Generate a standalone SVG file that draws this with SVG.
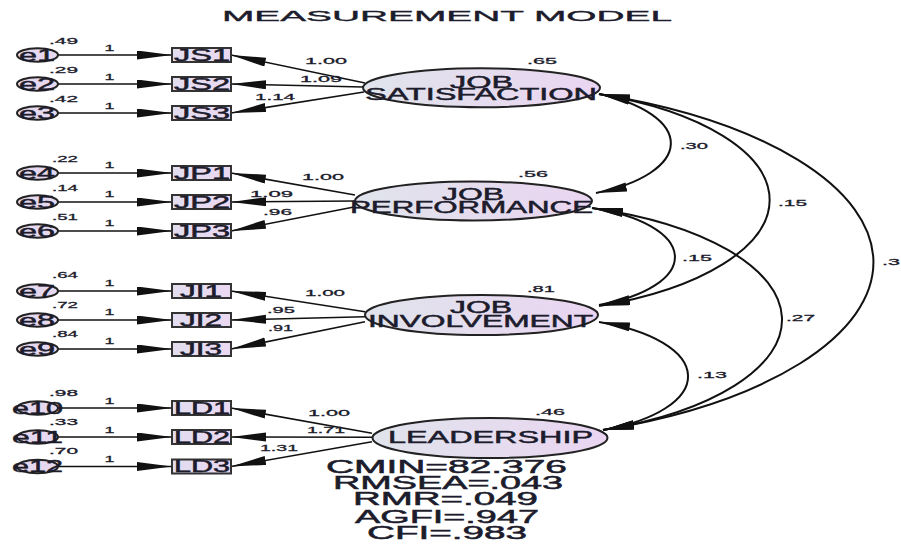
<svg xmlns="http://www.w3.org/2000/svg" width="901" height="545" viewBox="0 0 901 545">
  <style>
    text { font-family: "Liberation Sans", Arial, sans-serif; fill: #1c1c2c; stroke: #1c1c2c; stroke-width: 0.45; }
    .title { font-size: 15px; stroke-width: 0.35; }
    .lat { font-size: 16px; }
    .obs { font-size: 16px; }
    .err { font-size: 16px; }
    .num { font-size: 9.5px; stroke-width: 0.3; }
    .fit { font-size: 18px; stroke-width: 0.5; }
    .latent { fill: url(#latFill); stroke: #222; stroke-width: 2; }
    .box { fill: url(#boxFill); stroke: #333; stroke-width: 2; }
    .eps { fill: #e6d9ef; stroke: #222; stroke-width: 2; }
    .path { fill: none; stroke: #111; stroke-width: 1.6; marker-end: url(#head); }
    .cov { fill: none; stroke: #111; stroke-width: 2; marker-start: url(#headC); marker-end: url(#headC); }
  </style>
  <defs>
    <linearGradient id="latFill" x1="0" y1="0" x2="1" y2="0">
      <stop offset="0" stop-color="#e0e4ec"/>
      <stop offset="1" stop-color="#ead5f1"/>
    </linearGradient>
    <linearGradient id="boxFill" x1="0" y1="0" x2="1" y2="0">
      <stop offset="0" stop-color="#e2ddef"/>
      <stop offset="1" stop-color="#ead8f1"/>
    </linearGradient>
    <marker id="head" viewBox="0 0 36 10" markerUnits="userSpaceOnUse" markerWidth="36" markerHeight="10" refX="35" refY="4.5" orient="auto-start-reverse">
      <path d="M0,0 L35,4.5 L0,9 z" fill="#111"/>
    </marker>
    <marker id="headC" viewBox="0 0 32 10" markerUnits="userSpaceOnUse" markerWidth="32" markerHeight="10" refX="31" refY="4.5" orient="auto-start-reverse">
      <path d="M0,0 L31,4.5 L0,9 z" fill="#111"/>
    </marker>
  </defs>

  <text class="title" x="447" y="20.7" text-anchor="middle" textLength="450" lengthAdjust="spacingAndGlyphs">MEASUREMENT MODEL</text>

  <!-- connectors: error paths, factor loadings, covariances -->
  <g id="connectors">
    <path class="path" d="M58,55 H172"/>
    <path class="path" d="M58,84 H172"/>
    <path class="path" d="M58,113 H172"/>
    <path class="path" d="M58,173 H172"/>
    <path class="path" d="M58,202 H172"/>
    <path class="path" d="M58,231 H172"/>
    <path class="path" d="M58,291 H172"/>
    <path class="path" d="M58,320 H172"/>
    <path class="path" d="M58,349 H172"/>
    <path class="path" d="M58,408 H172"/>
    <path class="path" d="M58,437 H172"/>
    <path class="path" d="M58,466.5 H172"/>

    <path class="path" d="M365,83 L231,55"/>
    <path class="path" d="M363,87 L231,84"/>
    <path class="path" d="M364,92 L231,113"/>
    <path class="path" d="M355,195 L231,173"/>
    <path class="path" d="M355,201 L231,202"/>
    <path class="path" d="M354,207 L231,231"/>
    <path class="path" d="M365,311.7 L231,291"/>
    <path class="path" d="M365,316.7 L231,320"/>
    <path class="path" d="M365,321.7 L231,349"/>
    <path class="path" d="M372,433.3 L231,408"/>
    <path class="path" d="M372,437.3 L231,437"/>
    <path class="path" d="M372,441.7 L231,466.5"/>

    <path class="cov" d="M599,94 A130,55 0 0 1 596,193"/>
    <path class="cov" d="M599,94 A270,114 0 0 1 599,306"/>
    <path class="cov" d="M599,94 A425,180 0 0 1 603,430"/>
    <path class="cov" d="M592,208 A124,52 0 0 1 599,305"/>
    <path class="cov" d="M592,208 A279,118 0 0 1 603,430"/>
    <path class="cov" d="M599,322 A137,58 0 0 1 603,430"/>

    <text class="num" x="305" y="64" textLength="42" lengthAdjust="spacingAndGlyphs">1.00</text>
    <text class="num" x="300" y="82" textLength="42" lengthAdjust="spacingAndGlyphs">1.09</text>
    <text class="num" x="255" y="100" textLength="40" lengthAdjust="spacingAndGlyphs">1.14</text>
    <text class="num" x="302" y="180" textLength="42" lengthAdjust="spacingAndGlyphs">1.00</text>
    <text class="num" x="250" y="196.7" textLength="43" lengthAdjust="spacingAndGlyphs">1.09</text>
    <text class="num" x="263" y="215" textLength="29" lengthAdjust="spacingAndGlyphs">.96</text>
    <text class="num" x="305" y="296" textLength="40" lengthAdjust="spacingAndGlyphs">1.00</text>
    <text class="num" x="267" y="313.3" textLength="28" lengthAdjust="spacingAndGlyphs">.95</text>
    <text class="num" x="268" y="330.7" textLength="25" lengthAdjust="spacingAndGlyphs">.91</text>
    <text class="num" x="308" y="416" textLength="42" lengthAdjust="spacingAndGlyphs">1.00</text>
    <text class="num" x="307" y="432.7" textLength="38" lengthAdjust="spacingAndGlyphs">1.71</text>
    <text class="num" x="260" y="450.7" textLength="38" lengthAdjust="spacingAndGlyphs">1.31</text>

    <text class="num" x="109.5" y="50.7" text-anchor="middle" textLength="10" lengthAdjust="spacingAndGlyphs">1</text>
    <text class="num" x="109.5" y="80" text-anchor="middle" textLength="10" lengthAdjust="spacingAndGlyphs">1</text>
    <text class="num" x="109.5" y="109" text-anchor="middle" textLength="10" lengthAdjust="spacingAndGlyphs">1</text>
    <text class="num" x="109.5" y="168.3" text-anchor="middle" textLength="10" lengthAdjust="spacingAndGlyphs">1</text>
    <text class="num" x="109.5" y="197" text-anchor="middle" textLength="10" lengthAdjust="spacingAndGlyphs">1</text>
    <text class="num" x="109.5" y="226" text-anchor="middle" textLength="10" lengthAdjust="spacingAndGlyphs">1</text>
    <text class="num" x="109.5" y="285.7" text-anchor="middle" textLength="10" lengthAdjust="spacingAndGlyphs">1</text>
    <text class="num" x="109.5" y="315" text-anchor="middle" textLength="10" lengthAdjust="spacingAndGlyphs">1</text>
    <text class="num" x="109.5" y="344" text-anchor="middle" textLength="10" lengthAdjust="spacingAndGlyphs">1</text>
    <text class="num" x="109.5" y="404" text-anchor="middle" textLength="10" lengthAdjust="spacingAndGlyphs">1</text>
    <text class="num" x="109.5" y="433.3" text-anchor="middle" textLength="10" lengthAdjust="spacingAndGlyphs">1</text>
    <text class="num" x="109.5" y="462.3" text-anchor="middle" textLength="10" lengthAdjust="spacingAndGlyphs">1</text>

    <text class="num" x="680" y="149.3" textLength="28" lengthAdjust="spacingAndGlyphs">.30</text>
    <text class="num" x="778" y="205.7" textLength="29" lengthAdjust="spacingAndGlyphs">.15</text>
    <text class="num" x="882" y="265" textLength="18" lengthAdjust="spacingAndGlyphs">.3</text>
    <text class="num" x="682" y="261" textLength="30" lengthAdjust="spacingAndGlyphs">.15</text>
    <text class="num" x="786" y="321" textLength="29" lengthAdjust="spacingAndGlyphs">.27</text>
    <text class="num" x="697" y="378" textLength="30" lengthAdjust="spacingAndGlyphs">.13</text>
  </g>

  <!-- error terms -->
  <g id="e1"><ellipse class="eps" cx="37.5" cy="55" rx="20.5" ry="6.7"/><text class="err" x="19" y="60.7" textLength="36" lengthAdjust="spacingAndGlyphs">e1</text><text class="num" x="49" y="43.5" textLength="29" lengthAdjust="spacingAndGlyphs">.49</text></g>
  <g id="e2"><ellipse class="eps" cx="37.5" cy="84" rx="20.5" ry="6.7"/><text class="err" x="19" y="89.7" textLength="36" lengthAdjust="spacingAndGlyphs">e2</text><text class="num" x="49" y="73" textLength="29" lengthAdjust="spacingAndGlyphs">.29</text></g>
  <g id="e3"><ellipse class="eps" cx="37.5" cy="113" rx="20.5" ry="6.7"/><text class="err" x="19" y="118.7" textLength="36" lengthAdjust="spacingAndGlyphs">e3</text><text class="num" x="49" y="102" textLength="29" lengthAdjust="spacingAndGlyphs">.42</text></g>
  <g id="e4"><ellipse class="eps" cx="37.5" cy="173" rx="20.5" ry="6.7"/><text class="err" x="19" y="178.7" textLength="36" lengthAdjust="spacingAndGlyphs">e4</text><text class="num" x="52" y="161.5" textLength="26" lengthAdjust="spacingAndGlyphs">.22</text></g>
  <g id="e5"><ellipse class="eps" cx="37.5" cy="202" rx="20.5" ry="6.7"/><text class="err" x="19" y="207.7" textLength="36" lengthAdjust="spacingAndGlyphs">e5</text><text class="num" x="52" y="190.7" textLength="26" lengthAdjust="spacingAndGlyphs">.14</text></g>
  <g id="e6"><ellipse class="eps" cx="37.5" cy="231" rx="20.5" ry="6.7"/><text class="err" x="19" y="236.7" textLength="36" lengthAdjust="spacingAndGlyphs">e6</text><text class="num" x="52" y="220" textLength="26" lengthAdjust="spacingAndGlyphs">.51</text></g>
  <g id="e7"><ellipse class="eps" cx="37.5" cy="291" rx="20.5" ry="6.7"/><text class="err" x="19" y="296.7" textLength="36" lengthAdjust="spacingAndGlyphs">e7</text><text class="num" x="52" y="278.3" textLength="26" lengthAdjust="spacingAndGlyphs">.64</text></g>
  <g id="e8"><ellipse class="eps" cx="37.5" cy="320" rx="20.5" ry="6.7"/><text class="err" x="19" y="325.7" textLength="36" lengthAdjust="spacingAndGlyphs">e8</text><text class="num" x="52" y="307.7" textLength="26" lengthAdjust="spacingAndGlyphs">.72</text></g>
  <g id="e9"><ellipse class="eps" cx="37.5" cy="349" rx="20.5" ry="6.7"/><text class="err" x="19" y="354.7" textLength="36" lengthAdjust="spacingAndGlyphs">e9</text><text class="num" x="52" y="336.7" textLength="26" lengthAdjust="spacingAndGlyphs">.84</text></g>
  <g id="e10"><ellipse class="eps" cx="37.5" cy="408" rx="20.5" ry="6.7"/><text class="err" x="12" y="413.7" textLength="51" lengthAdjust="spacingAndGlyphs">e10</text><text class="num" x="49" y="395.7" textLength="29" lengthAdjust="spacingAndGlyphs">.98</text></g>
  <g id="e11"><ellipse class="eps" cx="37.5" cy="437" rx="20.5" ry="6.7"/><text class="err" x="12" y="442.7" textLength="51" lengthAdjust="spacingAndGlyphs">e11</text><text class="num" x="49" y="425" textLength="29" lengthAdjust="spacingAndGlyphs">.33</text></g>
  <g id="e12"><ellipse class="eps" cx="37.5" cy="466.5" rx="20.5" ry="6.7"/><text class="err" x="12" y="472.2" textLength="51" lengthAdjust="spacingAndGlyphs">e12</text><text class="num" x="49" y="454" textLength="29" lengthAdjust="spacingAndGlyphs">.70</text></g>

  <!-- observed indicators -->
  <g id="JS1"><rect class="box" x="172" y="48" width="59" height="14"/><text class="obs" x="202" y="60.7" text-anchor="middle" textLength="56" lengthAdjust="spacingAndGlyphs">JS1</text></g>
  <g id="JS2"><rect class="box" x="172" y="77" width="59" height="14"/><text class="obs" x="202" y="89.7" text-anchor="middle" textLength="56" lengthAdjust="spacingAndGlyphs">JS2</text></g>
  <g id="JS3"><rect class="box" x="172" y="106" width="59" height="14"/><text class="obs" x="202" y="118.7" text-anchor="middle" textLength="56" lengthAdjust="spacingAndGlyphs">JS3</text></g>
  <g id="JP1"><rect class="box" x="172" y="166" width="59" height="14"/><text class="obs" x="202" y="178.7" text-anchor="middle" textLength="56" lengthAdjust="spacingAndGlyphs">JP1</text></g>
  <g id="JP2"><rect class="box" x="172" y="195" width="59" height="14"/><text class="obs" x="202" y="207.7" text-anchor="middle" textLength="56" lengthAdjust="spacingAndGlyphs">JP2</text></g>
  <g id="JP3"><rect class="box" x="172" y="224" width="59" height="14"/><text class="obs" x="202" y="236.7" text-anchor="middle" textLength="56" lengthAdjust="spacingAndGlyphs">JP3</text></g>
  <g id="JI1"><rect class="box" x="172" y="284" width="59" height="14"/><text class="obs" x="201" y="296.7" text-anchor="middle" textLength="42" lengthAdjust="spacingAndGlyphs">JI1</text></g>
  <g id="JI2"><rect class="box" x="172" y="313" width="59" height="14"/><text class="obs" x="201" y="325.7" text-anchor="middle" textLength="42" lengthAdjust="spacingAndGlyphs">JI2</text></g>
  <g id="JI3"><rect class="box" x="172" y="342" width="59" height="14"/><text class="obs" x="201" y="354.7" text-anchor="middle" textLength="42" lengthAdjust="spacingAndGlyphs">JI3</text></g>
  <g id="LD1"><rect class="box" x="172" y="401" width="59" height="14"/><text class="obs" x="202" y="413.7" text-anchor="middle" textLength="56" lengthAdjust="spacingAndGlyphs">LD1</text></g>
  <g id="LD2"><rect class="box" x="172" y="430" width="59" height="14"/><text class="obs" x="202" y="442.7" text-anchor="middle" textLength="56" lengthAdjust="spacingAndGlyphs">LD2</text></g>
  <g id="LD3"><rect class="box" x="172" y="459.5" width="59" height="14"/><text class="obs" x="202" y="472.2" text-anchor="middle" textLength="56" lengthAdjust="spacingAndGlyphs">LD3</text></g>

  <!-- latent constructs -->
  <g id="job-satisfaction">
    <ellipse class="latent" cx="481.5" cy="87.7" rx="118.5" ry="19.5"/>
    <text class="lat" x="481.5" y="87.5" text-anchor="middle" textLength="63" lengthAdjust="spacingAndGlyphs">JOB</text>
    <text class="lat" x="481" y="99.5" text-anchor="middle" textLength="232" lengthAdjust="spacingAndGlyphs">SATISFACTION</text>
    <text class="num" x="527" y="64" textLength="30" lengthAdjust="spacingAndGlyphs">.65</text>
  </g>
  <g id="job-performance">
    <ellipse class="latent" cx="473.5" cy="201" rx="118.5" ry="19.5"/>
    <text class="lat" x="473" y="199.5" text-anchor="middle" textLength="62" lengthAdjust="spacingAndGlyphs">JOB</text>
    <text class="lat" x="471.5" y="212.7" text-anchor="middle" textLength="243" lengthAdjust="spacingAndGlyphs">PERFORMANCE</text>
    <text class="num" x="518" y="176.7" textLength="30" lengthAdjust="spacingAndGlyphs">.56</text>
  </g>
  <g id="job-involvement">
    <ellipse class="latent" cx="481.5" cy="315" rx="116.5" ry="20"/>
    <text class="lat" x="481" y="312.5" text-anchor="middle" textLength="62" lengthAdjust="spacingAndGlyphs">JOB</text>
    <text class="lat" x="480.5" y="327.3" text-anchor="middle" textLength="225" lengthAdjust="spacingAndGlyphs">INVOLVEMENT</text>
    <text class="num" x="527" y="291.7" textLength="28" lengthAdjust="spacingAndGlyphs">.81</text>
  </g>
  <g id="leadership">
    <ellipse class="latent" cx="490" cy="438" rx="117.5" ry="20"/>
    <text class="lat" x="490.5" y="443.3" text-anchor="middle" textLength="205" lengthAdjust="spacingAndGlyphs">LEADERSHIP</text>
    <text class="num" x="535" y="415" textLength="30" lengthAdjust="spacingAndGlyphs">.46</text>
  </g>

  <!-- model fit indices -->
  <g id="fit-indices">
    <text class="fit" x="446.5" y="473.3" text-anchor="middle" textLength="241" lengthAdjust="spacingAndGlyphs">CMIN=82.376</text>
    <text class="fit" x="448" y="489.3" text-anchor="middle" textLength="230" lengthAdjust="spacingAndGlyphs">RMSEA=.043</text>
    <text class="fit" x="445.5" y="505" text-anchor="middle" textLength="185" lengthAdjust="spacingAndGlyphs">RMR=.049</text>
    <text class="fit" x="447" y="522.7" text-anchor="middle" textLength="184" lengthAdjust="spacingAndGlyphs">AGFI=.947</text>
    <text class="fit" x="447" y="539.3" text-anchor="middle" textLength="160" lengthAdjust="spacingAndGlyphs">CFI=.983</text>
  </g>
</svg>
